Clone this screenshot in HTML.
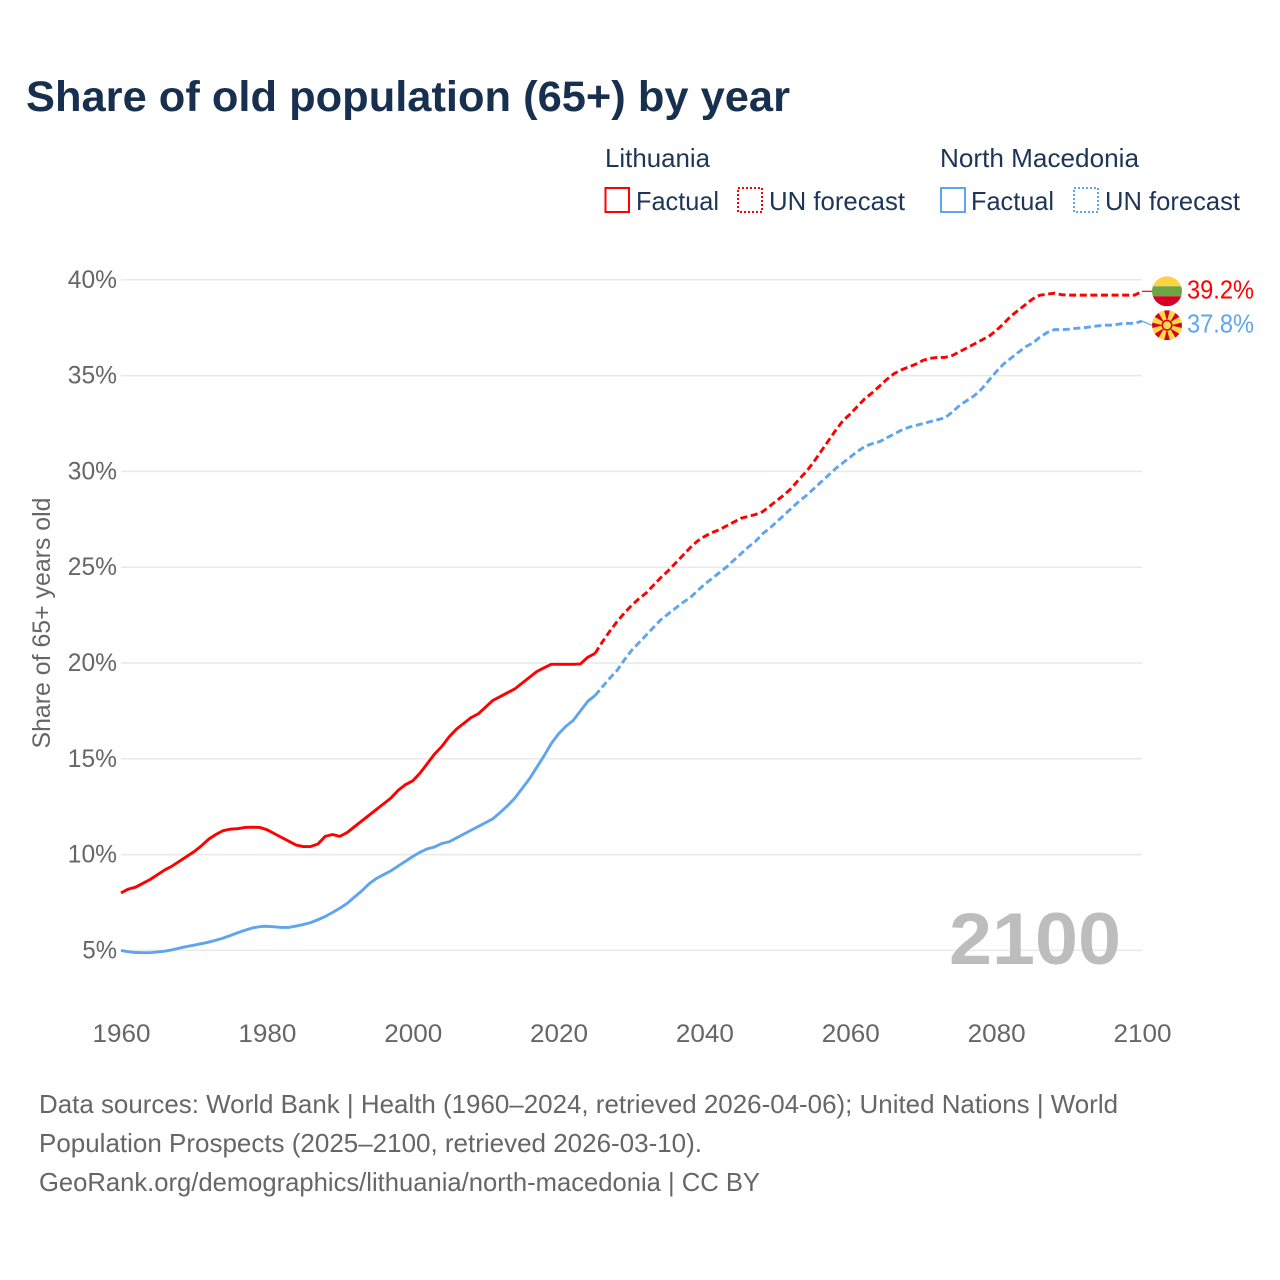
<!DOCTYPE html>
<html lang="en">
<head>
<meta charset="utf-8">
<title>Share of old population (65+) by year</title>
<style>
html,body{margin:0;padding:0;background:#fff;}
#chart{display:block;width:1280px;height:1280px;font-family:"Liberation Sans",sans-serif;}
</style>
</head>
<body>
<svg id="chart" xmlns="http://www.w3.org/2000/svg" width="1280" height="1280" viewBox="0 0 1280 1280">
  <rect x="0" y="0" width="1280" height="1280" fill="#ffffff"/>
  <text x="26" y="111" font-size="43" font-weight="700" fill="#18304f" textLength="764" lengthAdjust="spacingAndGlyphs">Share of old population (65+) by year</text>

  <g font-size="26" fill="#1d3557">
    <text x="605" y="167" textLength="105" lengthAdjust="spacingAndGlyphs">Lithuania</text>
    <rect x="605.5" y="188" width="23.5" height="24" fill="none" stroke="#ff0000" stroke-width="2"/>
    <text x="636" y="210" textLength="83" lengthAdjust="spacingAndGlyphs">Factual</text>
    <rect x="738" y="188" width="24" height="24" fill="none" stroke="#ff0000" stroke-width="2" stroke-dasharray="2 2"/>
    <text x="769" y="210" textLength="136" lengthAdjust="spacingAndGlyphs">UN forecast</text>
    <text x="940" y="167" textLength="199" lengthAdjust="spacingAndGlyphs">North Macedonia</text>
    <rect x="941" y="188" width="24" height="24" fill="none" stroke="#5ea5ee" stroke-width="2"/>
    <text x="971" y="210" textLength="83" lengthAdjust="spacingAndGlyphs">Factual</text>
    <rect x="1074" y="188" width="24" height="24" fill="none" stroke="#5ea5ee" stroke-width="2" stroke-dasharray="2 2"/>
    <text x="1105" y="210" textLength="135" lengthAdjust="spacingAndGlyphs">UN forecast</text>
  </g>

  <g id="grid"></g>
  <g id="yTicks" font-size="25" fill="#666666"></g>
  <g id="xTicks" font-size="25" fill="#666666"></g>
  <text transform="translate(50 623) rotate(-90)" text-anchor="middle" font-size="25" fill="#666666" textLength="251" lengthAdjust="spacingAndGlyphs">Share of 65+ years old</text>
  <text id="yearMark" x="1121" y="964" text-anchor="end" font-size="73" font-weight="700" fill="#bdbdbd" textLength="172" lengthAdjust="spacingAndGlyphs"></text>
  <g id="series"></g>
  <g id="ends"></g>

  <g font-size="26" fill="#666666">
    <text x="39" y="1113" textLength="1079" lengthAdjust="spacingAndGlyphs">Data sources: World Bank | Health (1960–2024, retrieved 2026-04-06); United Nations | World</text>
    <text x="39" y="1152" textLength="663" lengthAdjust="spacingAndGlyphs">Population Prospects (2025–2100, retrieved 2026-03-10).</text>
    <text x="39" y="1191" textLength="721" lengthAdjust="spacingAndGlyphs">GeoRank.org/demographics/lithuania/north-macedonia | CC BY</text>
  </g>
</svg>
<script>
const factualStartYear = 1960;
const forecastStartYear = 2025;
const xTickYears = [1960, 1980, 2000, 2020, 2040, 2060, 2080, 2100];
const yTickValues = [5, 10, 15, 20, 25, 30, 35, 40];
const lithuaniaFactual = [
  8.0, 8.2, 8.3, 8.5, 8.7, 8.95, 9.2, 9.4, 9.65, 9.9,
  10.15, 10.45, 10.8, 11.05, 11.25, 11.33, 11.35, 11.42, 11.43, 11.42,
  11.3, 11.1, 10.9, 10.7, 10.5, 10.42, 10.42, 10.55, 10.95, 11.05,
  10.95, 11.15, 11.45, 11.75, 12.05, 12.35, 12.65, 12.95, 13.35, 13.65,
  13.85, 14.25, 14.75, 15.25, 15.65, 16.15, 16.55, 16.85, 17.15, 17.35,
  17.7, 18.05, 18.25, 18.45, 18.65, 18.95, 19.25, 19.55, 19.75, 19.93,
  19.93, 19.93, 19.93, 19.95, 20.3, 20.5
];
const lithuaniaForecast = [
  20.5, 21.1, 21.65, 22.15, 22.6, 23.0, 23.35, 23.65, 24.05, 24.45,
  24.8, 25.2, 25.6, 26.0, 26.35, 26.6, 26.8, 26.95, 27.15, 27.35,
  27.55, 27.65, 27.75, 27.9, 28.2, 28.5, 28.8, 29.15, 29.6, 30.0,
  30.5, 31.05, 31.6, 32.15, 32.65, 33.0, 33.4, 33.8, 34.1, 34.45,
  34.8, 35.1, 35.3, 35.45, 35.6, 35.8, 35.9, 35.95, 35.95, 36.05,
  36.25, 36.45, 36.65, 36.85, 37.05, 37.35, 37.7, 38.1, 38.4, 38.7,
  39.0, 39.2, 39.25, 39.3, 39.22, 39.2, 39.2, 39.2, 39.2, 39.2,
  39.2, 39.2, 39.2, 39.2, 39.2, 39.4
];
const macedoniaFactual = [
  5.0, 4.93, 4.89, 4.88, 4.88, 4.92, 4.96, 5.03, 5.12, 5.2,
  5.27, 5.35, 5.43, 5.53, 5.64, 5.78, 5.92, 6.05, 6.17, 6.24,
  6.26, 6.23, 6.2, 6.2, 6.27, 6.35, 6.45, 6.6, 6.77, 6.98,
  7.2, 7.45, 7.78, 8.1, 8.47, 8.75, 8.95, 9.15, 9.4, 9.65,
  9.9, 10.12, 10.3, 10.4, 10.58, 10.67, 10.87, 11.07, 11.27, 11.47,
  11.67, 11.87, 12.2, 12.55, 12.95, 13.45, 13.95, 14.55, 15.15, 15.8,
  16.3, 16.7, 17.0, 17.5, 18.0, 18.3
];
const macedoniaForecast = [
  18.3, 18.75, 19.2, 19.6, 20.15, 20.65, 21.05, 21.45, 21.85, 22.25,
  22.55, 22.85, 23.15, 23.4, 23.75, 24.1, 24.4, 24.7, 25.0, 25.35,
  25.7, 26.05, 26.35, 26.75, 27.05, 27.4, 27.75, 28.1, 28.45, 28.75,
  29.1, 29.45, 29.8, 30.15, 30.45, 30.75, 31.05, 31.3, 31.45, 31.55,
  31.75, 31.95, 32.15, 32.3, 32.4, 32.5, 32.6, 32.7, 32.8, 33.1,
  33.45, 33.7, 33.95, 34.3, 34.75, 35.2, 35.6, 35.9, 36.2, 36.5,
  36.7, 37.0, 37.25, 37.4, 37.4, 37.42, 37.47, 37.5, 37.55, 37.6,
  37.63, 37.63, 37.7, 37.72, 37.73, 37.85
];
const endLabels = ["39.2%", "37.8%"];

const NS = "http://www.w3.org/2000/svg";
const RED = "#ff0000";
const BLUE = "#5ea5ee";
function xScale(year) { return 121 + (year - 1960) * (1142 - 121) / 140; }
function yScale(v) { return 950.4 - (v - 5) * (950.4 - 279.8) / 35; }
function make(tag, attrs, parent) {
  const el = document.createElementNS(NS, tag);
  for (const k in attrs) el.setAttribute(k, attrs[k]);
  parent.appendChild(el);
  return el;
}
function linePath(values, startYear) {
  return values.map(function (v, i) {
    return (i ? "L" : "M") + xScale(startYear + i).toFixed(2) + " " + yScale(v).toFixed(2);
  }).join(" ");
}

const grid = document.getElementById("grid");
const yTicks = document.getElementById("yTicks");
const xTicks = document.getElementById("xTicks");
yTickValues.forEach(function (v) {
  const gl = make("line", { x1: xScale(1960), x2: xScale(2100), y1: yScale(v), y2: yScale(v), stroke: "#e9e9e9", "stroke-width": 1.5 }, grid);
  
  
  const s = v + "%";
  const t = make("text", { x: 117, y: yScale(v) + 8, "text-anchor": "end", textLength: 14.6 * (s.length - 1) + 20, lengthAdjust: "spacingAndGlyphs" }, yTicks);
  t.textContent = s;
  
  
});
xTickYears.forEach(function (y) {
  const t = make("text", { x: xScale(y) + 0.5, y: 1042, "text-anchor": "middle", textLength: 58, lengthAdjust: "spacingAndGlyphs" }, xTicks);
  t.textContent = y;
  
  
});
document.getElementById("yearMark").textContent = xTickYears[xTickYears.length - 1];

const seriesG = document.getElementById("series");
function drawLine(values, startYear, color, dashed, name) {
  const attrs = { d: linePath(values, startYear), fill: "none", stroke: color, "stroke-width": 2.9, "stroke-linejoin": "round" };
  if (dashed) attrs["stroke-dasharray"] = "7 3.6";
  const p = make("path", attrs, seriesG);
  
  
}
drawLine(macedoniaFactual, factualStartYear, BLUE, false, "line-north-macedonia-factual");
drawLine(macedoniaForecast, forecastStartYear, BLUE, true, "line-north-macedonia-forecast");
drawLine(lithuaniaFactual, factualStartYear, RED, false, "line-lithuania-factual");
drawLine(lithuaniaForecast, forecastStartYear, RED, true, "line-lithuania-forecast");

const ends = document.getElementById("ends");
const flagX = xScale(2100) + 25;
const lastLith = lithuaniaForecast[lithuaniaForecast.length - 1];
const lastMac = macedoniaForecast[macedoniaForecast.length - 1];
const lithY = yScale(lastLith);
const macY = Math.max(yScale(lastMac) + 4, lithY + 34);

function connector(fromValue, toY, color, name) {
  const c = make("line", { x1: xScale(2100), y1: yScale(fromValue), x2: flagX - 15, y2: toY, stroke: color, "stroke-width": 1.2 }, ends);
  
  
}
connector(lastLith, lithY, RED, "connector-lithuania");
connector(lastMac, macY, BLUE, "connector-north-macedonia");

const defs = make("defs", {}, ends);
const clip = make("clipPath", { id: "lithClip" }, defs);
make("circle", { cx: flagX, cy: lithY, r: 15 }, clip);
const flagL = make("g", { "clip-path": "url(#lithClip)" }, ends);


make("rect", { x: flagX - 15, y: lithY - 15, width: 30, height: 10, fill: "#ffd243" }, flagL);
make("rect", { x: flagX - 15, y: lithY - 5, width: 30, height: 10, fill: "#6da544" }, flagL);
make("rect", { x: flagX - 15, y: lithY + 5, width: 30, height: 10, fill: "#d80027" }, flagL);

const clipM = make("clipPath", { id: "macClip" }, defs);
make("circle", { cx: flagX, cy: macY, r: 15 }, clipM);
const flagM = make("g", { "clip-path": "url(#macClip)" }, ends);


make("circle", { cx: flagX, cy: macY, r: 15, fill: "#d80027" }, flagM);
for (let a = 0; a < 8; a++) {
  const ang = a * Math.PI / 4 + Math.PI / 8;
  const dx = Math.cos(ang), dy = Math.sin(ang);
  const nx = -dy, ny = dx;
  const pts = [
    [flagX + nx * 1, macY + ny * 1],
    [flagX + dx * 17 + nx * 3.4, macY + dy * 17 + ny * 3.4],
    [flagX + dx * 17 - nx * 3.4, macY + dy * 17 - ny * 3.4],
    [flagX - nx * 1, macY - ny * 1]
  ].map(function (p) { return p[0].toFixed(2) + "," + p[1].toFixed(2); }).join(" ");
  make("polygon", { points: pts, fill: "#ffda44" }, flagM);
}
make("circle", { cx: flagX, cy: macY, r: 5.5, fill: "#d80027" }, flagM);
make("circle", { cx: flagX, cy: macY, r: 4, fill: "#ffda44" }, flagM);

function endLabel(text, y, color, name) {
  const t = make("text", { x: 1187, y: y + 7, "font-size": 25.5, fill: color, textLength: 67, lengthAdjust: "spacingAndGlyphs" }, ends);
  t.textContent = text;
  
  
}
endLabel(endLabels[0], lithY, RED, "end-label-lithuania");
endLabel(endLabels[1], macY, BLUE, "end-label-north-macedonia");
</script>
</body>
</html>
